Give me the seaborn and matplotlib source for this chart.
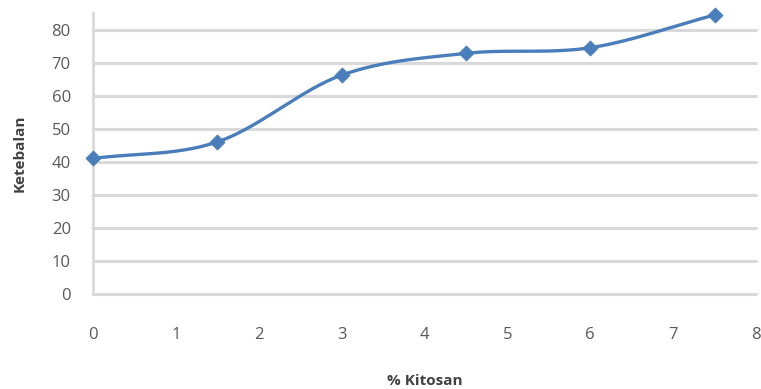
import numpy as np
import pandas as pd
import matplotlib
matplotlib.use("Agg")
import matplotlib.pyplot as plt
import seaborn as sns

# Chitosan concentration (%) and measured thickness
kitosan = [0, 1.5, 3, 4.5, 6, 7.5]
ketebalan = [41, 46, 66.2, 72.8, 74.5, 84.4]

x_ticks = [0, 1, 2, 3, 4, 5, 6, 7, 8]
y_ticks = [0, 10, 20, 30, 40, 50, 60, 70, 80]

LINE = "#4A7EBB"
GRID = "#D9D9D9"
TEXT = "#595959"

sns.set_theme(style="white")
plt.rcParams["font.family"] = ["Open Sans", "DejaVu Sans"]


def smooth_curve(xs, ys, steps=40):
    """Catmull-Rom spline through the points, like a smoothed line chart."""
    xs = np.asarray(xs, float)
    ys = np.asarray(ys, float)
    px = np.concatenate([[2 * xs[0] - xs[1]], xs, [2 * xs[-1] - xs[-2]]])
    py = np.concatenate([[2 * ys[0] - ys[1]], ys, [2 * ys[-1] - ys[-2]]])
    out_x, out_y = [], []
    t = np.linspace(0, 1, steps)
    for i in range(1, len(px) - 2):
        for arr, out in ((px, out_x), (py, out_y)):
            p0, p1, p2, p3 = arr[i - 1], arr[i], arr[i + 1], arr[i + 2]
            seg = 0.5 * ((2 * p1) + (-p0 + p2) * t
                         + (2 * p0 - 5 * p1 + 4 * p2 - p3) * t ** 2
                         + (-p0 + 3 * p1 - 3 * p2 + p3) * t ** 3)
            out.extend(seg)
    return np.array(out_x), np.array(out_y)


fig = plt.figure(figsize=(7.61, 3.89), dpi=100)
ax = fig.add_axes([93 / 761, 1 - 294 / 389, (756 - 93) / 761, (294 - 13) / 389])

for y in y_ticks:
    ax.axhline(y, color=GRID, lw=2.2, zorder=0, clip_on=False)

sx, sy = smooth_curve(kitosan, ketebalan)
ax.plot(sx, sy, color=LINE, lw=2.4, zorder=2, solid_capstyle="round", clip_on=False)

df = pd.DataFrame({"kitosan": kitosan, "ketebalan": ketebalan})
sns.scatterplot(data=df, x="kitosan", y="ketebalan", marker="D", s=60,
                color=LINE, edgecolor=LINE, linewidth=0.5, zorder=3, ax=ax,
                clip_on=False)

ax.set_xlim(0, 8)
ax.set_ylim(0, 85)
ax.set_xticks(x_ticks)
ax.set_yticks(y_ticks)
ax.tick_params(axis="both", length=0, labelsize=12, labelcolor=TEXT)
ax.tick_params(axis="x", pad=24)
ax.tick_params(axis="y", pad=16)

for side in ("top", "right", "bottom"):
    ax.spines[side].set_visible(False)
ax.spines["left"].set_color(GRID)
ax.spines["left"].set_linewidth(2.0)

ax.set_xlabel("% Kitosan", fontsize=11, fontweight="bold", color="#404040", labelpad=22)
ax.set_ylabel("Ketebalan", fontsize=11, fontweight="bold", color="#404040", labelpad=18)

fig.savefig("out.png", dpi=100)
